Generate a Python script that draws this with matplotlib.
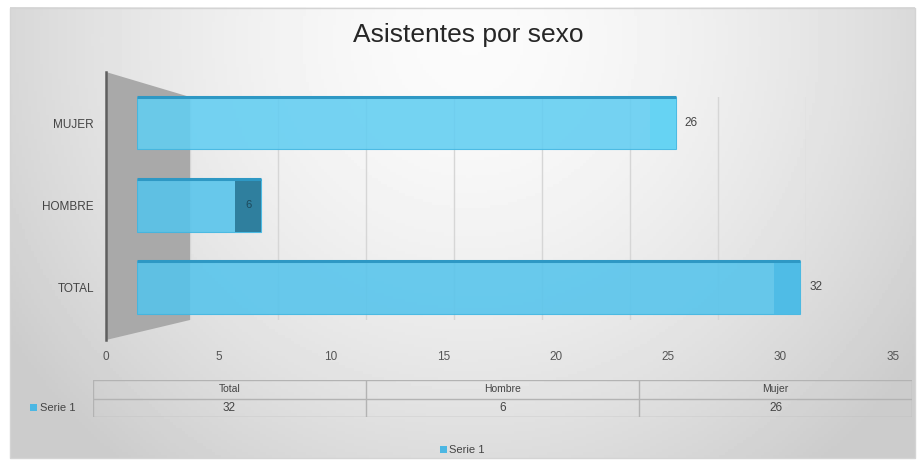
import numpy as np
import matplotlib
matplotlib.use("Agg")
import matplotlib.pyplot as plt
import matplotlib.patches as patches

# data
categorias = ["TOTAL", "HOMBRE", "MUJER"]
tabla_cols = ["Total", "Hombre", "Mujer"]
valores = [32, 6, 26]
serie = "Serie 1"
titulo = "Asistentes por sexo"
ticks_x = [0, 5, 10, 15, 20, 25, 30, 35]

W, H = 923, 465
plt.rcParams['font.family'] = ['Liberation Sans', 'DejaVu Sans']

def rect(x0, y0, x1, y1):
    # pixel box (top-left origin) -> figure fraction
    return [x0 / W, 1 - y1 / H, (x1 - x0) / W, (y1 - y0) / H]

def limpiar(ax):
    for s in ax.spines.values():
        s.set_visible(False)
    ax.patch.set_alpha(0)

fig = plt.figure(figsize=(W / 100, H / 100), dpi=100)

## background with soft gradient and border
ax_bg = fig.add_axes([0, 0, 1, 1])
ax_bg.set_xlim(0, W)
ax_bg.set_ylim(H, 0)
ax_bg.axis("off")
gx, gy = np.meshgrid(np.linspace(10, 915, 300), np.linspace(8, 458, 150))
r = np.sqrt(((gx - 470) / 520) ** 2 + ((gy - 40) / 520) ** 2)
grad = np.clip(0.985 - 0.17 * r ** 1.6, 0.80, 1)
ax_bg.imshow(grad, cmap="gray", vmin=0, vmax=1, extent=(10, 915, 458, 8), aspect="auto")
ax_bg.add_patch(patches.Rectangle((10, 8), 905, 450, fill=False, ec="#d4d4d4", lw=1))
# side wall of the 3D plot
wall = patches.Polygon([(106, 72), (190, 97), (190, 320), (106, 340)],
                       closed=True, fc="#a9a9a9", ec="none")
ax_bg.add_patch(wall)
ax_bg.plot([106, 106], [72, 340], color="#5f5f5f", lw=1.8)

## back wall gridlines
ax_wall = fig.add_axes(rect(190, 97, 806, 320))
limpiar(ax_wall)
ax_wall.set_xlim(0, 35)
ax_wall.set_xticks(ticks_x)
ax_wall.set_xticklabels([])
ax_wall.set_yticks([])
ax_wall.tick_params(length=0)
ax_wall.grid(axis="x", color="#d6d6d6", lw=1)

## front x axis labels
ax_x = fig.add_axes(rect(106, 340, 893, 345))
limpiar(ax_x)
ax_x.set_xlim(0, 35)
ax_x.set_xticks(ticks_x)
ax_x.set_yticks([])
ax_x.tick_params(axis="x", length=0, pad=4, labelsize=8.5, labelcolor="#555555")

## bars
ax = fig.add_axes(rect(137, 72, 862, 340))
limpiar(ax)
ax.set_xlim(0, 35)
ax.set_ylim(-0.646, 2.622)
ypos = np.arange(len(categorias))
alto = 0.646
colores_barra = ["#55c4ec", "#55c4ec", "#62cef2"]
ax.barh(ypos, valores, height=alto, color=colores_barra, alpha=0.88, ec="#3fb6e2", lw=0.8, zorder=2)
# end face of each bar
colores_tapa = ["#4fbce6", "#2f7f9e", "#66d3f3"]
tapa = 1.25
for i in range(len(valores)):
    ax.barh(ypos[i], tapa, left=valores[i] - tapa, height=alto,
            color=colores_tapa[i], ec="none", zorder=3)
# top face (darker strip)
ax.hlines(ypos + alto / 2 - 0.01, 0, valores, color="#2e98c4", lw=2.2, zorder=4)
# value labels
for i, v in enumerate(valores):
    if v < 10:
        ax.text(v - tapa / 2, ypos[i], str(v), ha="center", va="center",
                fontsize=8, color="#1d4a5c", zorder=5)
    else:
        ax.text(v + 0.45, ypos[i], str(v), ha="left", va="center",
                fontsize=8.5, color="#444444", zorder=5)
ax.set_yticks(ypos)
ax.set_yticklabels(categorias)
ax.set_xticks([])
ax.tick_params(axis="y", length=0, pad=31, labelsize=8.5, labelcolor="#444444")

## title
fig.text(468 / W, 1 - 35 / H, titulo, ha="center", va="center",
         fontsize=19, color="#262626")

## data table
ax_t = fig.add_axes(rect(93, 380, 912, 417))
ax_t.set_xlim(0, 3)
ax_t.set_ylim(0, 2)
ax_t.axis("off")
lc = "#b3b3b3"
for yl in [0, 1, 2]:
    ax_t.plot([0, 3], [yl, yl], color=lc, lw=1)
for xl in [0, 1, 2, 3]:
    ax_t.plot([xl, xl], [0, 2], color=lc, lw=1)
for j in range(len(tabla_cols)):
    ax_t.text(j + 0.5, 1.5, tabla_cols[j], ha="center", va="center",
              fontsize=7.5, color="#444444")
    ax_t.text(j + 0.5, 0.5, str(valores[j]), ha="center", va="center",
              fontsize=8.5, color="#444444")
ax_bg.add_patch(patches.Rectangle((30, 404), 7, 7, fc="#4cb7e3", ec="none"))
ax_bg.text(40, 408, serie, ha="left", va="center", fontsize=8, color="#444444")

## legend
ax_bg.add_patch(patches.Rectangle((440, 446), 7, 7, fc="#4cb7e3", ec="none"))
ax_bg.text(449, 449.5, serie, ha="left", va="center", fontsize=8, color="#444444")

fig.savefig("out.png", dpi=100)
